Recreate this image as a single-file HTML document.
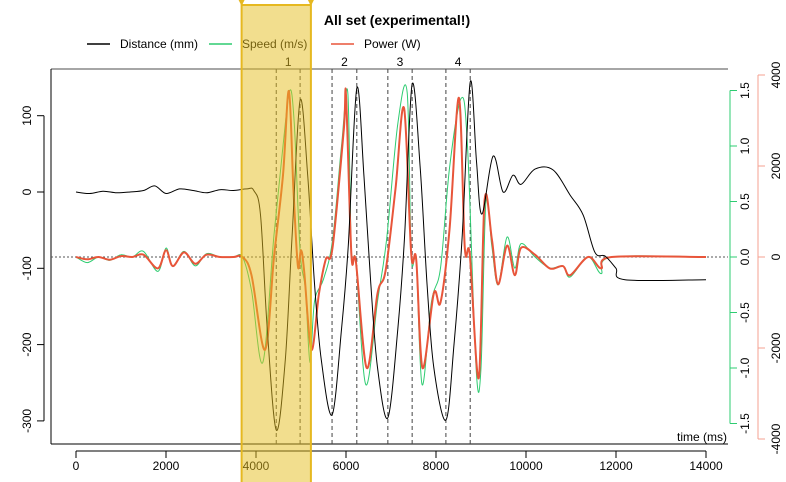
<!DOCTYPE html>
<html><head><meta charset="utf-8"><style>
body{margin:0;background:#fff}
svg{display:block;font-family:"Liberation Sans",sans-serif}
</style></head><body>
<svg id="c" width="786" height="482">
<rect x="0" y="0" width="786" height="482" fill="#fff"/>
<g id="axes"></g>
<g id="series"></g>
<g id="overlay"></g>
</svg>
<script>
const distT=[0,300,600,900,1200,1500,1750,2000,2300,2600,2900,3200,3500,3800,3950,4100,4250,4450,4650,4800,4980,5150,5300,5450,5690,5900,6050,6240,6400,6550,6700,6930,7150,7300,7470,7650,7800,7950,8220,8400,8580,8760,8900,9020,9270,9490,9710,9890,10200,10600,10980,11270,11530,11760,12000,12200,14000];
const distV=[0,-2,1,-1,0,2,8,-2,4,2,-1,3,2,4,2,-30,-180,-312,-220,-60,120,20,-120,-220,-292,-180,-70,136,20,-120,-230,-296,-180,-60,141,30,-120,-230,-299,-200,-60,144,40,-29,47,0,22,10,30,29,-4,-30,-79,-84,-100,-115,-115];
const speedT=[0,250,500,750,1000,1250,1500,1820,2000,2150,2400,2650,2900,3200,3500,3700,3900,4150,4400,4600,4750,4850,4980,5100,5200,5300,5500,5700,5900,6040,6120,6220,6440,6700,6900,7150,7360,7450,7560,7690,7900,8100,8300,8560,8700,8890,9000,9110,9240,9380,9580,9750,9890,10200,10530,10820,10980,11380,11670,11900,14000];
const speedV=[0,-0.05,0,-0.03,0.02,0,0.05,-0.13,0.08,-0.08,0.05,-0.08,0.03,0,0,0,-0.3,-0.95,0.2,1.0,1.5,1.2,0.05,-0.3,-0.95,-0.4,-0.2,0.15,1.0,1.48,0.05,-0.05,-1.15,-0.4,0.15,1.2,1.48,0.0,-0.05,-1.15,-0.4,-0.1,0.8,1.43,1.0,-1.0,-1.0,0.5,0.1,-0.25,0.18,-0.1,0.12,0,-0.1,-0.08,-0.18,0,-0.15,0,0];
const powerT=[0,250,500,750,1000,1250,1500,1820,2000,2150,2400,2650,2900,3200,3500,3700,3900,4200,4400,4600,4730,4830,4930,5000,5070,5230,5400,5550,5700,5950,6000,6120,6220,6460,6700,6880,7100,7290,7450,7560,7700,7950,8100,8300,8510,8640,8750,8950,9080,9240,9380,9580,9750,9890,10200,10530,10820,10980,11380,11670,11900,14000];
const powerV=[0,-50,0,-60,20,0,50,-250,150,-200,100,-150,50,0,0,0,-400,-2040,0,1800,3650,1500,-200,150,-300,-2040,-800,-50,200,2800,3550,50,-100,-2440,-800,-300,1500,3270,50,-50,-2440,-800,-1000,600,3500,200,50,-2660,1250,400,-600,250,-400,200,50,-250,-200,-400,0,-250,0,0];
const xTicks=[0,2000,4000,6000,8000,10000,12000,14000];
const distTicks=[100,0,-100,-200,-300];
const speedTicks=[-1.5,-1.0,-0.5,0.0,0.5,1.0,1.5];
const powerTicks=[-4000,-2000,0,2000,4000];
const repMarks=[4450,4980,5690,6240,6930,7470,8220,8760];
const repLabels=["1","2","3","4"];
const selStart=3680, selEnd=5220;

const X=t=>76+t*0.045;
const YD=v=>192-v*0.763;
const YS=v=>257-v*111;
const YP=v=>257-v*0.0455;
const NS="http://www.w3.org/2000/svg";
function mk(tag,attrs,parent,text){const e=document.createElementNS(NS,tag);for(const k in attrs)e.setAttribute(k,attrs[k]);if(text!==undefined)e.textContent=text;parent.appendChild(e);return e;}
function smooth(ts,vs,fy){
  const p=ts.map((t,i)=>[X(t),fy(vs[i])]);
  let d="M"+p[0][0].toFixed(1)+","+p[0][1].toFixed(1);
  for(let i=0;i<p.length-1;i++){
    const p0=p[Math.max(0,i-1)],p1=p[i],p2=p[i+1],p3=p[Math.min(p.length-1,i+2)];
    const c1=[p1[0]+(p2[0]-p0[0])/6,p1[1]+(p2[1]-p0[1])/6];
    const c2=[p2[0]-(p3[0]-p1[0])/6,p2[1]-(p3[1]-p1[1])/6];
    d+=" C"+c1.map(v=>v.toFixed(1))+" "+c2.map(v=>v.toFixed(1))+" "+p2.map(v=>v.toFixed(1));
  }
  return d;
}
const ax=document.getElementById('axes');
const se=document.getElementById('series');
const ov=document.getElementById('overlay');

let e;
e=mk('text',{x:397,y:25,'text-anchor':'middle','font-size':14,'font-weight':'bold'},ax,'All set (experimental!)');

const leg=[["#000","Distance (mm)",87],["#2ecc71","Speed (m/s)",209],["#e8553a","Power (W)",331]];
leg.forEach((l,i)=>{
  const g=mk('g',{},ax);
  
  
  mk('line',{x1:l[2],x2:l[2]+23,y1:44,y2:44,stroke:l[0],'stroke-width':1.5},g);
  mk('text',{x:l[2]+33,y:48,'font-size':12},g,l[1]);
});
mk('line',{x1:51,x2:728,y1:69,y2:69,stroke:'#888','stroke-width':1.5},ax);
mk('line',{x1:51,x2:51,y1:69,y2:444,stroke:'#000'},ax);
mk('line',{x1:51,x2:728,y1:444,y2:444,stroke:'#000'},ax);
mk('line',{x1:51,x2:728,y1:257,y2:257,stroke:'#555','stroke-dasharray':'2,2'},ax);
e=mk('text',{x:727,y:441,'text-anchor':'end','font-size':12},ax,'time (ms)');

mk('line',{x1:X(0),x2:X(14000),y1:451,y2:451,stroke:'#000'},ax);
xTicks.forEach(t=>{mk('line',{x1:X(t),x2:X(t),y1:451,y2:458,stroke:'#000'},ax);
  e=mk('text',{x:X(t),y:470,'text-anchor':'middle','font-size':12},ax,String(t));
  });
mk('line',{x1:44,x2:44,y1:YD(100),y2:YD(-300),stroke:'#000'},ax);
distTicks.forEach(v=>{mk('line',{x1:37,x2:44,y1:YD(v),y2:YD(v),stroke:'#000'},ax);
  e=mk('text',{x:0,y:0,'text-anchor':'middle','font-size':12,transform:`translate(31,${YD(v)}) rotate(-90)`},ax,String(v));
  });
mk('line',{x1:730,x2:730,y1:YS(1.5),y2:YS(-1.5),stroke:'#2ecc71'},ax);
speedTicks.forEach(v=>{mk('line',{x1:730,x2:737,y1:YS(v),y2:YS(v),stroke:'#2ecc71'},ax);
  e=mk('text',{x:0,y:0,'text-anchor':'middle','font-size':12,transform:`translate(749,${YS(v)}) rotate(-90)`},ax,v.toFixed(1));
  });
mk('line',{x1:758,x2:758,y1:YP(4000),y2:YP(-4000),stroke:'#f4a090'},ax);
powerTicks.forEach(v=>{mk('line',{x1:758,x2:765,y1:YP(v),y2:YP(v),stroke:'#f4a090'},ax);
  e=mk('text',{x:0,y:0,'text-anchor':'middle','font-size':12,transform:`translate(780,${YP(v)}) rotate(-90)`},ax,String(v));
  });
repMarks.forEach(t=>{e=mk('line',{x1:X(t),x2:X(t),y1:69,y2:444,stroke:'#444','stroke-dasharray':'4,3'},ax);
  });
repLabels.forEach((l,i)=>{e=mk('text',{x:(X(repMarks[2*i])+X(repMarks[2*i+1]))/2,y:66,'text-anchor':'middle','font-size':12},ax,l);
  });
e=mk('path',{d:smooth(speedT,speedV,YS),fill:'none',stroke:'#2ecc71','stroke-width':1},se);

e=mk('path',{d:smooth(powerT,powerV,YP),fill:'none',stroke:'#e8553a','stroke-width':2},se);

e=mk('path',{d:smooth(distT,distV,YD),fill:'none',stroke:'#000','stroke-width':1},se);

const sx1=X(selStart),sx2=X(selEnd);
e=mk('rect',{x:sx1,y:5,width:sx2-sx1,height:477,fill:'rgb(230,190,30)','fill-opacity':0.5},ov);

[sx1,sx2].forEach(x=>{e=mk('line',{x1:x,x2:x,y1:0,y2:482,stroke:'#e6b820','stroke-width':2},ov);
  
  mk('polygon',{points:`${x-3},0 ${x+3},0 ${x},6`,fill:'#e6b820'},ov);});
mk('line',{x1:sx1,x2:sx2,y1:5,y2:5,stroke:'#e6b820','stroke-width':2},ov);
</script>
</body></html>
